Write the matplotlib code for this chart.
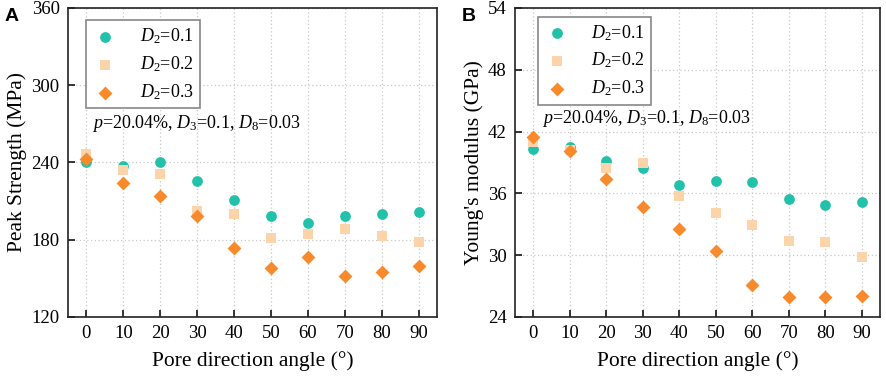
import matplotlib
matplotlib.use("Agg")
import matplotlib.pyplot as plt
import numpy as np

plt.rcParams['font.family'] = ['Liberation Serif', 'DejaVu Serif']
plt.rcParams['mathtext.fontset'] = 'custom'
plt.rcParams['mathtext.rm'] = 'Liberation Serif'
plt.rcParams['mathtext.it'] = 'Liberation Serif:italic'

angles = [0, 10, 20, 30, 40, 50, 60, 70, 80, 90]

peak_d01 = [240.5, 237.5, 240.0, 226.0, 211.0, 198.2, 193.0, 198.4, 200.0, 201.6]
peak_d02 = [246.9, 234.4, 230.8, 202.6, 200.0, 181.6, 184.5, 188.0, 183.0, 178.5]
peak_d03 = [242.7, 224.3, 214.2, 198.7, 173.3, 158.0, 166.3, 152.0, 155.2, 159.4]

young_d01 = [40.3, 40.5, 39.15, 38.5, 36.85, 37.17, 37.07, 35.5, 34.9, 35.2]
young_d02 = [41.0, 40.2, 38.5, 38.95, 35.7, 34.1, 32.96, 31.4, 31.25, 29.8]
young_d03 = [41.5, 40.08, 37.43, 34.68, 32.54, 30.38, 27.1, 25.94, 25.9, 26.0]

labels = [r'$\mathit{D}_2$=0.1', r'$\mathit{D}_2$=0.2', r'$\mathit{D}_2$=0.3']
colors = ['#22C1AA', '#FDD3AA', '#F88A2C']
markers = ['o', 's', 'D']
sizes = [60, 50, 50]
note = r'$\mathit{p}$=20.04%, $\mathit{D}_3$=0.1, $\mathit{D}_8$=0.03'

fig = plt.figure(figsize=(8.86, 3.79), dpi=100)
axA = fig.add_axes([0.0767, 0.1636, 0.4165, 0.8154])
axB = fig.add_axes([0.5813, 0.1636, 0.4119, 0.8154])

def style(ax, ylim, yticks, ylabel):
    ax.set_xlim(-5, 95)
    ax.set_ylim(*ylim)
    ax.set_xticks(angles)
    ax.set_yticks(yticks)
    ax.tick_params(direction='in', length=5, width=1.1, labelsize=13.5, pad=6,
                   top=False, right=False)
    ax.grid(True, linestyle=(0, (1, 2)), color='#c8c8c8', linewidth=0.9)
    ax.set_axisbelow(True)
    for s in ax.spines.values():
        s.set_linewidth(1.2)
        s.set_color('#222222')
    ax.set_xlabel('Pore direction angle (°)', fontsize=15.5, labelpad=6)
    ax.set_ylabel(ylabel, fontsize=15.5, labelpad=3)

for ax, series in [(axA, [peak_d01, peak_d02, peak_d03]),
                   (axB, [young_d01, young_d02, young_d03])]:
    for vals, lab, c, m, s in zip(series, labels, colors, markers, sizes):
        ax.scatter(angles, vals, s=s, c=c, marker=m, label=lab, linewidths=0, zorder=3)

style(axA, (120, 360), [120, 180, 240, 300, 360], 'Peak Strength (MPa)')
style(axB, (24, 54), [24, 30, 36, 42, 48, 54], "Young's modulus (GPa)")

for ax, loc in [(axA, (0.05, 0.96)), (axB, (0.062, 0.972))]:
    leg = ax.legend(loc='upper left', bbox_to_anchor=loc, fontsize=13, frameon=True,
                    fancybox=False, edgecolor='#888888', framealpha=1,
                    borderpad=0.35, labelspacing=0.45, handletextpad=1.2,
                    handlelength=1.4, borderaxespad=0)
    leg.get_frame().set_linewidth(1.2)

axA.text(1.6, 270.5, note, fontsize=13, va='center', ha='left')
axB.text(2.5, 43.3, note, fontsize=13, va='center', ha='left')

fig.text(0.005, 0.978, 'A', fontsize=14, fontweight='bold', family='Liberation Sans', va='top')
fig.text(0.521, 0.978, 'B', fontsize=14, fontweight='bold', family='Liberation Sans', va='top')

fig.savefig('out.png', dpi=100)
